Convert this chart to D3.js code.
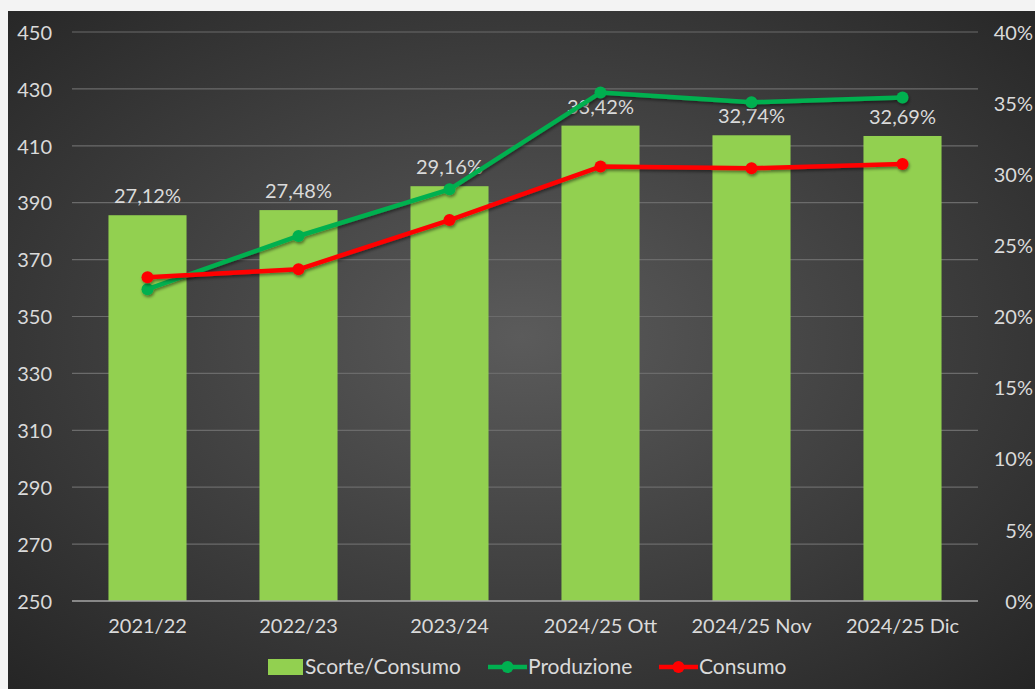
<!DOCTYPE html>
<html>
<head>
    <meta charset="utf-8">
    <title>Scorte / Consumo</title>
    <script src="https://d3js.org/d3.v7.min.js"></script>
    <style>
        body { margin: 0; background: #f3f3f3; }
        svg text { font-family: Lato, 'Open Sans', sans-serif; fill: #dadada; }
    </style>
</head>
<body>
<script>
    // data
    const categories = ["2021/22", "2022/23", "2023/24", "2024/25 Ott", "2024/25 Nov", "2024/25 Dic"];
    const scorteConsumo = [0.2712, 0.2748, 0.2916, 0.3342, 0.3274, 0.3269];
    const produzione = [359.6, 378.3, 394.7, 428.7, 425.3, 427.0];
    const consumo = [363.8, 366.6, 383.9, 402.7, 402.1, 403.6];
    const leftTicks = [250, 270, 290, 310, 330, 350, 370, 390, 410, 430, 450];
    const rightTicks = [0, 0.05, 0.10, 0.15, 0.20, 0.25, 0.30, 0.35, 0.40];

    const W = 1035, H = 689;
    const plot = { left: 72, right: 978, top: 32, bottom: 601 };
    const fs = 20;
    const fmtPct = v => d3.format(".2f")(v * 100).replace(".", ",") + "%";

    const svg = d3.select("body").append("svg")
        .attr("width", W).attr("height", H);

    const defs = svg.append("defs");
    const grad = defs.append("radialGradient").attr("id", "bg")
        .attr("cx", "50%").attr("cy", "48%").attr("r", "75%");
    grad.append("stop").attr("offset", "0%").attr("stop-color", "#5b5b5b");
    grad.append("stop").attr("offset", "100%").attr("stop-color", "#232323");
    const shadow = defs.append("filter").attr("id", "shadow")
        .attr("x", "-10%").attr("y", "-10%").attr("width", "120%").attr("height", "130%");
    shadow.append("feDropShadow").attr("dx", 1).attr("dy", 2)
        .attr("stdDeviation", 1.5).attr("flood-color", "#000").attr("flood-opacity", 0.45);

    // chart area
    svg.append("rect").attr("x", 8).attr("y", 11)
        .attr("width", W - 8).attr("height", H - 11)
        .attr("fill", "url(#bg)");

    // scales
    const x = d3.scaleBand().domain(categories).range([plot.left, plot.right])
        .paddingInner(0.483).paddingOuter(0.2415);
    const xc = d => x(d) + x.bandwidth() / 2;
    const yL = d3.scaleLinear().domain([250, 450]).range([plot.bottom, plot.top]);
    const yR = d3.scaleLinear().domain([0, 0.40]).range([plot.bottom, plot.top]);

    // gridlines
    svg.append("g").selectAll("line").data(leftTicks.slice(1)).join("line")
        .attr("x1", plot.left).attr("x2", plot.right)
        .attr("y1", d => yL(d)).attr("y2", d => yL(d))
        .attr("stroke", "#6b6b6b").attr("stroke-width", 1.2);

    // left axis
    const yAxisL = svg.append("g").attr("transform", `translate(${plot.left},0)`)
        .call(d3.axisLeft(yL).tickValues(leftTicks).tickSize(0).tickPadding(20));
    yAxisL.select(".domain").remove();
    yAxisL.selectAll("text").attr("font-size", fs).attr("font-family", null).attr("dy", "0.36em");

    // right axis
    const yAxisR = svg.append("g").attr("transform", `translate(1033,0)`)
        .call(d3.axisLeft(yR).tickValues(rightTicks).tickSize(0).tickPadding(0)
            .tickFormat(d => Math.round(d * 100) + "%"));
    yAxisR.select(".domain").remove();
    yAxisR.selectAll("text").attr("font-size", fs).attr("font-family", null).attr("dy", "0.36em");

    // bars
    svg.append("g").selectAll("rect").data(categories).join("rect")
        .attr("x", d => x(d))
        .attr("width", x.bandwidth())
        .attr("y", (d, i) => yR(scorteConsumo[i]))
        .attr("height", (d, i) => yR(0) - yR(scorteConsumo[i]))
        .attr("fill", "#92d050");

    // bar labels
    svg.append("g").selectAll("text").data(categories).join("text")
        .attr("x", d => xc(d))
        .attr("y", (d, i) => yR(scorteConsumo[i]) - 12)
        .attr("text-anchor", "middle")
        .attr("font-size", fs)
        .text((d, i) => fmtPct(scorteConsumo[i]));

    // baseline
    svg.append("line").attr("x1", plot.left).attr("x2", plot.right)
        .attr("y1", yL(250)).attr("y2", yL(250))
        .attr("stroke", "#a6a6a6").attr("stroke-width", 1.5);

    // x axis
    const xAxis = svg.append("g").attr("transform", `translate(0,${plot.bottom})`)
        .call(d3.axisBottom(x).tickSize(0).tickPadding(18));
    xAxis.select(".domain").remove();
    xAxis.selectAll("text").attr("font-size", fs).attr("font-family", null);

    // lines
    const series = [
        { name: "Produzione", values: produzione, color: "#00b050" },
        { name: "Consumo", values: consumo, color: "#ff0000" }
    ];
    const line = d3.line().x((d, i) => xc(categories[i])).y(d => yL(d));
    series.forEach(s => {
        const g = svg.append("g").attr("filter", "url(#shadow)");
        g.append("path").attr("d", line(s.values))
            .attr("fill", "none").attr("stroke", s.color)
            .attr("stroke-width", 4.5).attr("stroke-linejoin", "round");
        g.selectAll("circle").data(s.values).join("circle")
            .attr("cx", (d, i) => xc(categories[i])).attr("cy", d => yL(d))
            .attr("r", 6).attr("fill", s.color);
    });

    // legend
    const ly = 667, lfs = 21;
    const leg = svg.append("g");
    leg.append("rect").attr("x", 268).attr("y", ly - 8).attr("width", 35).attr("height", 16)
        .attr("fill", "#92d050");
    leg.append("text").attr("x", 305).attr("y", ly).attr("dy", "0.35em")
        .attr("font-size", lfs).text("Scorte/Consumo");
    [[488, series[0]], [659, series[1]]].forEach(([lx, s]) => {
        leg.append("line").attr("x1", lx).attr("x2", lx + 39).attr("y1", ly).attr("y2", ly)
            .attr("stroke", s.color).attr("stroke-width", 4.5);
        leg.append("circle").attr("cx", lx + 19.5).attr("cy", ly).attr("r", 6).attr("fill", s.color);
        leg.append("text").attr("x", lx + 40).attr("y", ly).attr("dy", "0.35em")
            .attr("font-size", lfs).text(s.name);
    });
</script>
</body>
</html>
